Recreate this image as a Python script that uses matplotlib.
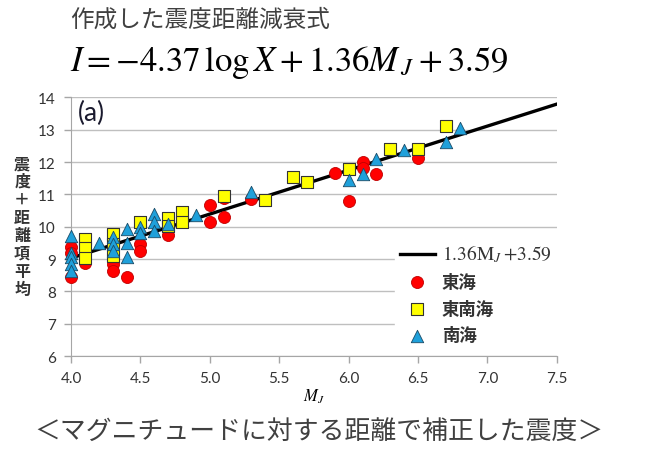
import numpy as np
import matplotlib
matplotlib.use('Agg')
import matplotlib.pyplot as plt

plt.rcParams['font.family'] = ['Noto Sans CJK JP', 'DejaVu Sans']
plt.rcParams['mathtext.fontset'] = 'stix'

# 東海
tokai_m = [4.0, 4.0, 4.0, 4.1, 4.3, 4.3, 4.4, 4.5, 4.5, 4.7, 5.0, 5.0, 5.1, 5.1,
           5.3, 5.9, 6.0, 6.1, 6.1, 6.2, 6.5]
tokai_i = [9.36, 9.2, 8.43, 8.89, 8.84, 8.63, 8.43, 9.46, 9.25, 9.74, 10.68, 10.16,
           10.31, 10.9, 10.87, 11.65, 10.78, 12.0, 11.83, 11.63, 12.11]

# 東南海
tonankai_m = [4.1, 4.1, 4.1, 4.3, 4.3, 4.3, 4.5, 4.7, 4.7, 4.8, 4.8, 5.1, 5.4,
              5.6, 5.7, 6.0, 6.3, 6.5, 6.7]
tonankai_i = [9.61, 9.33, 9.03, 9.78, 9.45, 9.1, 10.15, 10.28, 10.03, 10.44, 10.16,
              10.96, 10.83, 11.54, 11.37, 11.78, 12.39, 12.4, 13.12]

# 南海
nankai_m = [4.0, 4.0, 4.0, 4.0, 4.0, 4.2, 4.3, 4.3, 4.3, 4.4, 4.4, 4.4, 4.5, 4.5,
            4.6, 4.6, 4.6, 4.7, 4.9, 5.3, 6.0, 6.1, 6.2, 6.4, 6.7, 6.8]
nankai_i = [9.72, 9.2, 9.05, 8.84, 8.63, 9.51, 9.67, 9.46, 9.25, 9.92, 9.49, 9.05,
            9.98, 9.80, 10.39, 10.13, 9.87, 10.08, 10.36, 11.08, 11.45, 11.63, 12.09,
            12.37, 12.63, 13.04]

# 回帰式 1.36 MJ + 3.59
slope, intercept = 1.36, 3.59
line_m = np.array([4.0, 7.5])
line_i = slope * line_m + intercept

xticks = [4.0, 4.5, 5.0, 5.5, 6.0, 6.5, 7.0, 7.5]
yticks = [6, 7, 8, 9, 10, 11, 12, 13, 14]

fig = plt.figure(figsize=(6.52, 4.52), dpi=100)
ax = fig.add_axes([0.109, 0.210, 0.745, 0.5725])

ax.plot(line_m, line_i, color='black', lw=2.4, zorder=2,
        label=r'$\mathrm{1.36M}_{J}\,\mathrm{+3.59}$')
ax.scatter(tokai_m, tokai_i, s=75, marker='o', color='#FF0000',
           edgecolor='#C00000', linewidth=0.6, zorder=3, label='東海', clip_on=False)
ax.scatter(tonankai_m, tonankai_i, s=80, marker='s', color='#FFFF00',
           edgecolor='#333333', linewidth=0.8, zorder=4, label='東南海', clip_on=False)
ax.scatter(nankai_m, nankai_i, s=80, marker='^', color='#1FA0DA',
           edgecolor='#1a4a66', linewidth=0.6, zorder=5, label='南海', clip_on=False)

ax.set_xlim(4.0, 7.5)
ax.set_ylim(6, 14)
ax.set_xticks(xticks)
ax.set_xticklabels([f'{v:.1f}' for v in xticks], fontfamily='Lato', fontsize=11)
ax.set_yticks(yticks)
ax.set_yticklabels([str(v) for v in yticks], fontfamily='Lato', fontsize=11)
ax.yaxis.grid(True, color='#BFBFBF', lw=1.0)
ax.set_axisbelow(True)
for s in ['top', 'right']:
    ax.spines[s].set_visible(False)
for s in ['left', 'bottom']:
    ax.spines[s].set_color('#A6A6A6')
ax.tick_params(axis='both', colors='#A6A6A6', labelcolor='#333333', length=5, width=1)
ax.tick_params(axis='y', pad=6)
ax.tick_params(axis='x', pad=6)

ax.set_xlabel(r'$\boldsymbol{M_J}$', fontsize=12, labelpad=1)
ax.text(0.015, 0.99, '(a)', transform=ax.transAxes, fontfamily='Lato',
        fontsize=19, color='#1a1a2e', va='top', ha='left')

leg = ax.legend(loc='lower right', bbox_to_anchor=(1.0, 0.025), frameon=True,
                fancybox=False, edgecolor='white', framealpha=1.0,
                prop={'family': 'Noto Sans CJK JP', 'weight': 'bold', 'size': 12.5},
                handlelength=2.0, handletextpad=0.4, labelspacing=0.5,
                borderaxespad=0.0, borderpad=0.3)
for t in leg.get_texts():
    t.set_color('#333333')
leg.get_texts()[0].set_fontsize(14)

fig.text(0.034, 0.498, '震\n度\n＋\n距\n離\n項\n平\n均', ha='center', va='center',
         fontsize=11.5, fontweight='bold', color='#333333', linespacing=1.15)

fig.text(0.107, 0.955, '作成した震度距離減衰式', ha='left', va='center',
         fontsize=17, color='#404040')
fig.text(0.108, 0.862, r'$I = -4.37\,\log X + 1.36M_{\,J} + 3.59$', ha='left',
         va='center', fontsize=25, color='black')
fig.text(0.053, 0.045, '＜マグニチュードに対する距離で補正した震度＞', ha='left',
         va='center', fontsize=18.6, color='#404040')

fig.savefig('out.png', dpi=100)
